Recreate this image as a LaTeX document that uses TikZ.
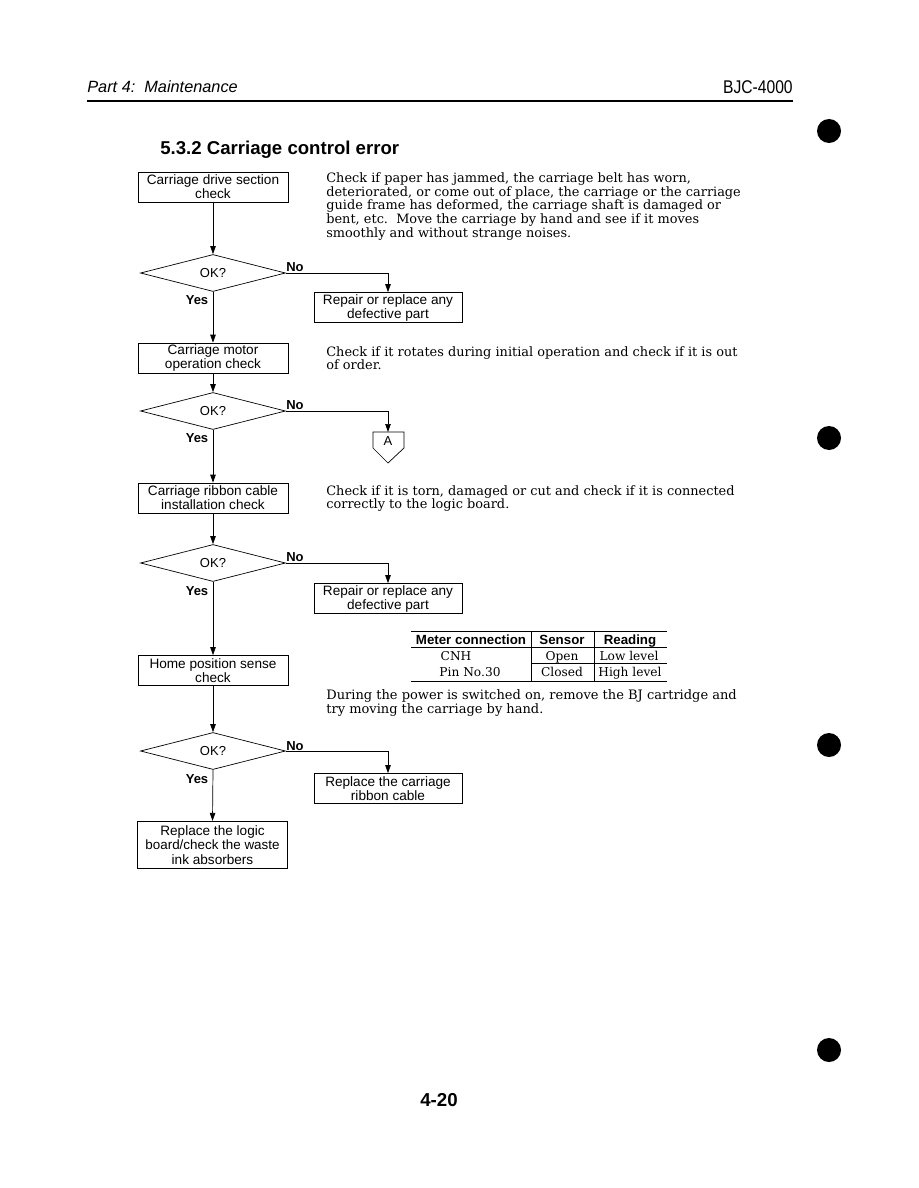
\documentclass[tikz,border=0pt]{standalone}
\usepackage{fontspec}
\setmainfont{DejaVu Serif}
\setsansfont{Liberation Sans}
\newfontfamily\bodyserif{DejaVu Serif}
\usetikzlibrary{shapes.geometric,arrows.meta}
\begin{document}
\begin{tikzpicture}[x=1pt,y=-1pt,
  line width=0.7pt,
  flowbox/.style={draw, minimum width=150pt, minimum height=30pt, inner sep=0pt, align=center,
    font=\sffamily\fontsize{13.6}{14}\selectfont},
  okdiamond/.style={draw, diamond, aspect=3.9, minimum width=145pt, minimum height=37pt, inner sep=0pt,
    font=\sffamily\fontsize{13}{14}\selectfont},
  lbl/.style={font=\sffamily\bfseries\fontsize{13}{14}\selectfont, inner sep=0pt},
  body/.style={anchor=north west, align=left, inner sep=0pt,
    font=\bodyserif\fontsize{12.9}{13.6}\selectfont},
  tab/.style={anchor=base, inner sep=0pt, font=\bodyserif\fontsize{12.2}{14}\selectfont},
  tabh/.style={anchor=base, inner sep=0pt, font=\sffamily\bfseries\fontsize{13.3}{14}\selectfont},
  flow/.style={-{Triangle[length=8pt,width=5.5pt]}},
  dot/.style={fill=black, circle, minimum size=24pt, inner sep=0pt}
]
\useasboundingbox (0,0) rectangle (918,1188);
\fill[white] (0,0) rectangle (918,1188);

% header
\node[anchor=base west, inner sep=0pt, font=\sffamily\itshape\fontsize{16.3}{18}\selectfont] (hdrl) at (87,93) {Part 4:\ \ Maintenance};
\node[anchor=base east, inner sep=0pt, font=\sffamily\fontsize{18.4}{20}\selectfont] (hdrr) at (793,94) {\scalebox{0.85}[1]{BJC-4000}};
\coordinate (rl) at (87,101);
\coordinate (rr) at (793,101);
\draw[line width=1.6pt] (rl) -- (rr);

% dots
\node[dot] (dot1) at (829,131) {};
\node[dot] (dot2) at (829,438) {};
\node[dot] (dot3) at (829,745) {};
\node[dot] (dot4) at (829,1050) {};

% title
\node[anchor=base west, inner sep=0pt, font=\sffamily\bfseries\fontsize{18.6}{20}\selectfont] (title) at (160,154) {5.3.2 Carriage control error};

% main column
\node[flowbox] (b1) at (213,187) {Carriage drive section\\check};
\node[okdiamond] (d1) at (213,273) {OK?};
\node[flowbox] (b2) at (213,358) {Carriage motor\\operation check};
\node[okdiamond] (d2) at (213,411) {OK?};
\node[flowbox] (b3) at (213,498) {Carriage ribbon cable\\installation check};
\node[okdiamond] (d3) at (213,563) {OK?};
\node[flowbox] (b4) at (213,670.5) {Home position sense\\check};
\node[okdiamond] (d4) at (213,751) {OK?};
\node[flowbox, line width=1.2pt, minimum height=47pt, font=\sffamily\fontsize{13.6}{14.2}\selectfont] (b5) at (212.5,845) {Replace the logic\\{\fontsize{13.4}{14.2}\selectfont board/check the waste}\\ink absorbers};

% right column
\node[flowbox, minimum width=148pt] (r1) at (388,307.5) {Repair or replace any\\defective part};
\node[flowbox, minimum width=148pt] (r2) at (388,598.5) {Repair or replace any\\defective part};
\node[flowbox, minimum width=148pt] (r3) at (388,788.5) {Replace the carriage\\ribbon cable};

% connector A
\node[inner sep=0pt, font=\sffamily\fontsize{13}{14}\selectfont] (conA) at (388,441) {A};
\coordinate (conAtop) at (388,432);
\draw (373,432) -- (404,432) -- (404,448) -- (388,463) -- (373,448) -- cycle;

% connectors
\draw[flow] (b1.south) -- (d1.north);
\draw[flow] (d1.south) -- (b2.north);
\draw[flow] (b2.south) -- (d2.north);
\draw[flow] (d2.south) -- (b3.north);
\draw[flow] (b3.south) -- (d3.north);
\draw[flow] (d3.south) -- (b4.north);
\draw[flow] (b4.south) -- (d4.north);
\draw[flow] (d4.south) -- (b5.north);
\draw[flow] (d1.east) -| (r1.north);
\draw[flow] (d2.east) -| (conAtop);
\draw[flow] (d3.east) -| (r2.north);
\draw[flow] (d4.east) -| (r3.north);

% labels
\node[lbl] (no1) at (295,267) {No};
\node[lbl] (no2) at (295,405) {No};
\node[lbl] (no3) at (295,557) {No};
\node[lbl] (no4) at (295,746) {No};
\node[lbl] (yes1) at (197,300) {Yes};
\node[lbl] (yes2) at (197,438) {Yes};
\node[lbl] (yes3) at (197,591) {Yes};
\node[lbl] (yes4) at (197,779) {Yes};

% descriptions
\node[body] (t1) at (326,172.5) {Check if paper has jammed, the carriage belt has worn,\\deteriorated, or come out of place, the carriage or the carriage\\guide frame has deformed, the carriage shaft is damaged or\\bent, etc.\ \ Move the carriage by hand and see if it moves\\smoothly and without strange noises.};
\node[body] (t2) at (326,346) {Check if it rotates during initial operation and check if it is out\\of order.};
\node[body] (t3) at (326,485) {Check if it is torn, damaged or cut and check if it is connected\\correctly to the logic board.};
\node[body, font=\bodyserif\fontsize{13}{13.8}\selectfont] (t4) at (326,689) {During the power is switched on, remove the BJ cartridge and\\try moving the carriage by hand.};

% table
\coordinate (tl) at (411,631);
\coordinate (tr) at (667,631);
\draw[line width=0.5pt] (tl) -- (tr);
\draw[line width=0.5pt] (411,647) -- (667,647);
\draw[line width=0.5pt] (531,663) -- (667,663);
\draw[line width=0.5pt] (411,681) -- (667,681);
\draw[line width=0.5pt] (531,631) -- (531,681);
\draw[line width=0.5pt] (594,631) -- (594,681);
\node[tabh] (th1) at (471,644) {Meter connection};
\node[tabh] (th2) at (562,644) {Sensor};
\node[tabh] (th3) at (630,644) {Reading};
\node[tab] (c11) at (456,660) {CNH};
\node[tab] (c12) at (562,660) {Open};
\node[tab] (c13) at (629,660) {Low level};
\node[tab] (c21) at (470,676) {Pin No.30};
\node[tab] (c22) at (562,676) {Closed};
\node[tab] (c23) at (630,676) {High level};

% page number
\node[inner sep=0pt, font=\sffamily\bfseries\fontsize{18.7}{20}\selectfont] (pg) at (439,1100) {4-20};
\end{tikzpicture}
\end{document}
